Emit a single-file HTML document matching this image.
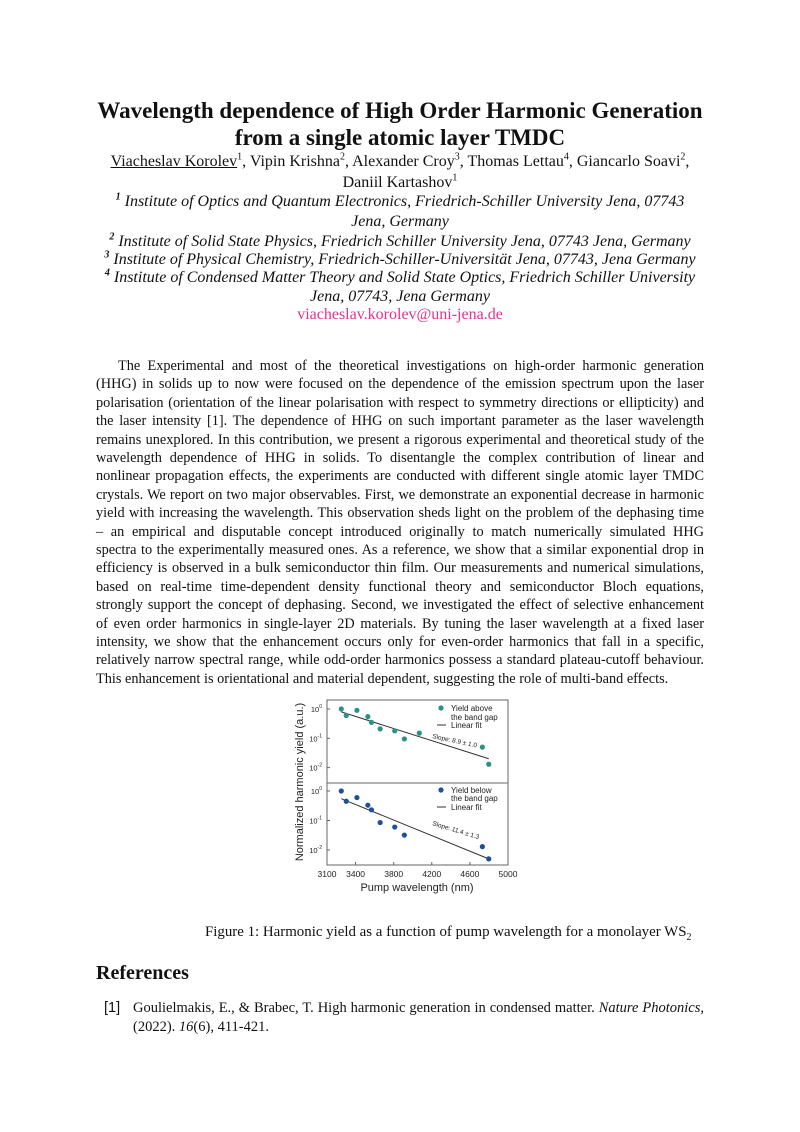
<!DOCTYPE html>
<html><head><meta charset="utf-8">
<style>
body{margin:0;background:#fff;}
#page{position:relative;width:800px;height:1132px;background:#fff;font-family:"Liberation Serif",serif;color:#111;overflow:hidden;}
.c{position:absolute;left:0;width:800px;text-align:center;white-space:nowrap;}
.t{font-weight:bold;font-size:23px;line-height:26px;}
.a{font-size:16px;line-height:18px;}
.i{font-style:italic;font-size:16px;line-height:18px;}
.bl{position:absolute;left:96px;width:608px;font-size:14.3px;line-height:18px;text-align:justify;text-align-last:justify;white-space:nowrap;}
.last{text-align-last:left;}
sup{font-size:10px;line-height:0;}
</style></head><body>
<div id="page">
<div class="c t" style="top:98px">Wavelength dependence of High Order Harmonic Generation</div>
<div class="c t" style="top:125px">from a single atomic layer TMDC</div>
<div class="c a" style="top:153px"><span style="text-decoration:underline">Viacheslav Korolev</span><sup>1</sup>, Vipin Krishna<sup>2</sup>, Alexander Croy<sup>3</sup>, Thomas Lettau<sup>4</sup>, Giancarlo Soavi<sup>2</sup>,</div>
<div class="c a" style="top:174px">Daniil Kartashov<sup>1</sup></div>
<div class="c i" style="top:193px"><b><sup>1</sup></b> Institute of Optics and Quantum Electronics, Friedrich-Schiller University Jena, 07743</div>
<div class="c i" style="top:213px">Jena, Germany</div>
<div class="c i" style="top:233px"><b><sup>2</sup></b> Institute of Solid State Physics, Friedrich Schiller University Jena, 07743 Jena, Germany</div>
<div class="c i" style="top:251px"><b><sup>3</sup></b> Institute of Physical Chemistry, Friedrich-Schiller-Universität Jena, 07743, Jena Germany</div>
<div class="c i" style="top:269px"><b><sup>4</sup></b> Institute of Condensed Matter Theory and Solid State Optics, Friedrich Schiller University</div>
<div class="c i" style="top:288px">Jena, 07743, Jena Germany</div>
<div class="c a" style="top:306px;color:#e0338f">viacheslav.korolev@uni-jena.de</div>

<div>
<div class="bl" style="top:357px;left:118px;width:586px">The Experimental and most of the theoretical investigations on high-order harmonic generation</div>
<div class="bl" style="top:375.4px">(HHG) in solids up to now were focused on the dependence of the emission spectrum upon the laser</div>
<div class="bl" style="top:393.8px">polarisation (orientation of the linear polarisation with respect to symmetry directions or ellipticity) and</div>
<div class="bl" style="top:412.2px">the laser intensity [1]. The dependence of HHG on such important parameter as the laser wavelength</div>
<div class="bl" style="top:430.6px">remains unexplored. In this contribution, we present a rigorous experimental and theoretical study of the</div>
<div class="bl" style="top:449px">wavelength dependence of HHG in solids. To disentangle the complex contribution of linear and</div>
<div class="bl" style="top:467.4px">nonlinear propagation effects, the experiments are conducted with different single atomic layer TMDC</div>
<div class="bl" style="top:485.8px">crystals. We report on two major observables. First, we demonstrate an exponential decrease in harmonic</div>
<div class="bl" style="top:504.2px">yield with increasing the wavelength. This observation sheds light on the problem of the dephasing time</div>
<div class="bl" style="top:522.6px">– an empirical and disputable concept introduced originally to match numerically simulated HHG</div>
<div class="bl" style="top:541px">spectra to the experimentally measured ones. As a reference, we show that a similar exponential drop in</div>
<div class="bl" style="top:559.4px">efficiency is observed in a bulk semiconductor thin film. Our measurements and numerical simulations,</div>
<div class="bl" style="top:577.8px">based on real-time time-dependent density functional theory and semiconductor Bloch equations,</div>
<div class="bl" style="top:596.2px">strongly support the concept of dephasing. Second, we investigated the effect of selective enhancement</div>
<div class="bl" style="top:614.6px">of even order harmonics in single-layer 2D materials. By tuning the laser wavelength at a fixed laser</div>
<div class="bl" style="top:633px">intensity, we show that the enhancement occurs only for even-order harmonics that fall in a specific,</div>
<div class="bl" style="top:651.4px">relatively narrow spectral range, while odd-order harmonics possess a standard plateau-cutoff behaviour.</div>
<div class="bl last" style="top:669.8px">This enhancement is orientational and material dependent, suggesting the role of multi-band effects.</div>
</div>

<svg id="chart" style="position:absolute;left:0;top:0" width="800" height="1132" font-family="Liberation Sans, sans-serif"></svg>

<div style="position:absolute;left:205px;top:923px;font-size:14.9px;line-height:18px;white-space:nowrap">Figure 1: Harmonic yield as a function of pump wavelength for a monolayer WS<sub style="font-size:10px">2</sub></div>
<div style="position:absolute;left:96px;top:961px;font-size:20px;font-weight:bold;line-height:24px">References</div>
<div style="position:absolute;left:104px;top:999px;font-size:14.5px;line-height:18px;font-family:'Liberation Sans',sans-serif">[1]</div>
<div class="bl" style="top:999px;left:133px;width:571px;font-size:14.5px">Goulielmakis, E., &amp; Brabec, T. High harmonic generation in condensed matter. <i>Nature Photonics</i>,</div>
<div style="position:absolute;left:133px;top:1018px;font-size:14.5px;line-height:18px">(2022). <i>16</i>(6), 411-421.</div>
</div>
<script>
const wavelengths = [3250,3302,3414,3529,3567,3658,3811,3912,4069,4731,4798];
const yieldAbove = [1.0,0.6,0.9,0.55,0.35,0.21,0.18,0.095,0.15,0.05,0.013];
const wavelengthsBelow = [3250,3302,3414,3529,3567,3658,3811,3912,4731,4798];
const yieldBelow = [1.0,0.45,0.6,0.33,0.23,0.085,0.06,0.032,0.013,0.005];
const fitAbove = [[3250,0.8],[4798,0.02]];
const fitBelow = [[3250,0.55],[4798,0.005]];
const xTicks = [3100,3400,3800,4200,4600,5000];
const yTicks = [0,-1,-2];

const svg = document.getElementById('chart');
const NS='http://www.w3.org/2000/svg';
const L=327,R=508;
const xs=v=>L+(v-3100)/1900*(R-L);
const yTop=v=>709-Math.log10(v)*29.3;
const yBot=v=>791-Math.log10(v)*29.5;
function mk(tag,attrs,name){const e=document.createElementNS(NS,tag);for(const k in attrs)e.setAttribute(k,attrs[k]);


svg.appendChild(e);return e;}
function txt(x,y,s,size,name,extra){const e=mk('text',Object.assign({x:x,y:y,'font-size':size,fill:'#222'},extra||{}),name);e.textContent=s;return e;}

mk('rect',{x:L,y:700,width:R-L,height:165,fill:'none',stroke:'#666','stroke-width':1},'plot-frame');
mk('line',{x1:L,y1:783,x2:R,y2:783,stroke:'#666','stroke-width':1},'panel-divider');

xTicks.forEach(t=>{const x=xs(t);
 mk('line',{x1:x,y1:865,x2:x,y2:862,stroke:'#666'},'x-tick');
 txt(x,877,String(t),8.5,'x-tick-label',{'text-anchor':'middle'});});
yTicks.forEach(p=>{
 [[yTop,'top'],[yBot,'bottom']].forEach(([f,n])=>{const y=f(Math.pow(10,p));
  mk('line',{x1:L,y1:y,x2:L+3,y2:y,stroke:'#666'},'y-tick-'+n);
  const t=txt(L-5,y+3,'10',7.5,'y-tick-label-'+n,{'text-anchor':'end'});
  const s=document.createElementNS(NS,'tspan');s.setAttribute('dy','-4');s.setAttribute('font-size','5');s.textContent=String(p);t.appendChild(s);});
});
txt(417,891,'Pump wavelength (nm)',11,'x-axis-title',{'text-anchor':'middle'});
txt(0,0,'Normalized harmonic yield (a.u.)',11,'y-axis-title',{'text-anchor':'middle',transform:'translate(303,782) rotate(-90)'});

mk('line',{x1:xs(fitAbove[0][0]),y1:yTop(fitAbove[0][1]),x2:xs(fitAbove[1][0]),y2:yTop(fitAbove[1][1]),stroke:'#333','stroke-width':1},'fit-line-above');
mk('line',{x1:xs(fitBelow[0][0]),y1:yBot(fitBelow[0][1]),x2:xs(fitBelow[1][0]),y2:yBot(fitBelow[1][1]),stroke:'#333','stroke-width':1},'fit-line-below');
wavelengths.forEach((w,i)=>mk('circle',{cx:xs(w),cy:yTop(yieldAbove[i]),r:2.6,fill:'#2a9287'},'point-above'));
wavelengthsBelow.forEach((w,i)=>mk('circle',{cx:xs(w),cy:yBot(yieldBelow[i]),r:2.6,fill:'#1f4f99'},'point-below'));

txt(432,738,'Slope: 8.9 ± 1.0',6.5,'slope-label-above',{transform:'rotate(12 432 738)'});
txt(432,825,'Slope: 11.4 ± 1.3',6.5,'slope-label-below',{transform:'rotate(17 432 825)'});

mk('circle',{cx:441,cy:708,r:2.6,fill:'#2a9287'},'legend-marker-above');
txt(451,711,'Yield above',8,'legend-label-above');
txt(451,720,'the band gap',8,'legend-label-above-2');
mk('line',{x1:437,y1:725,x2:446,y2:725,stroke:'#333'},'legend-line-above');
txt(451,728,'Linear fit',8,'legend-label-fit-above');
mk('circle',{cx:441,cy:790,r:2.6,fill:'#1f4f99'},'legend-marker-below');
txt(451,793,'Yield below',8,'legend-label-below');
txt(451,801,'the band gap',8,'legend-label-below-2');
mk('line',{x1:437,y1:807,x2:446,y2:807,stroke:'#333'},'legend-line-below');
txt(451,810,'Linear fit',8,'legend-label-fit-below');
</script>
</body></html>
